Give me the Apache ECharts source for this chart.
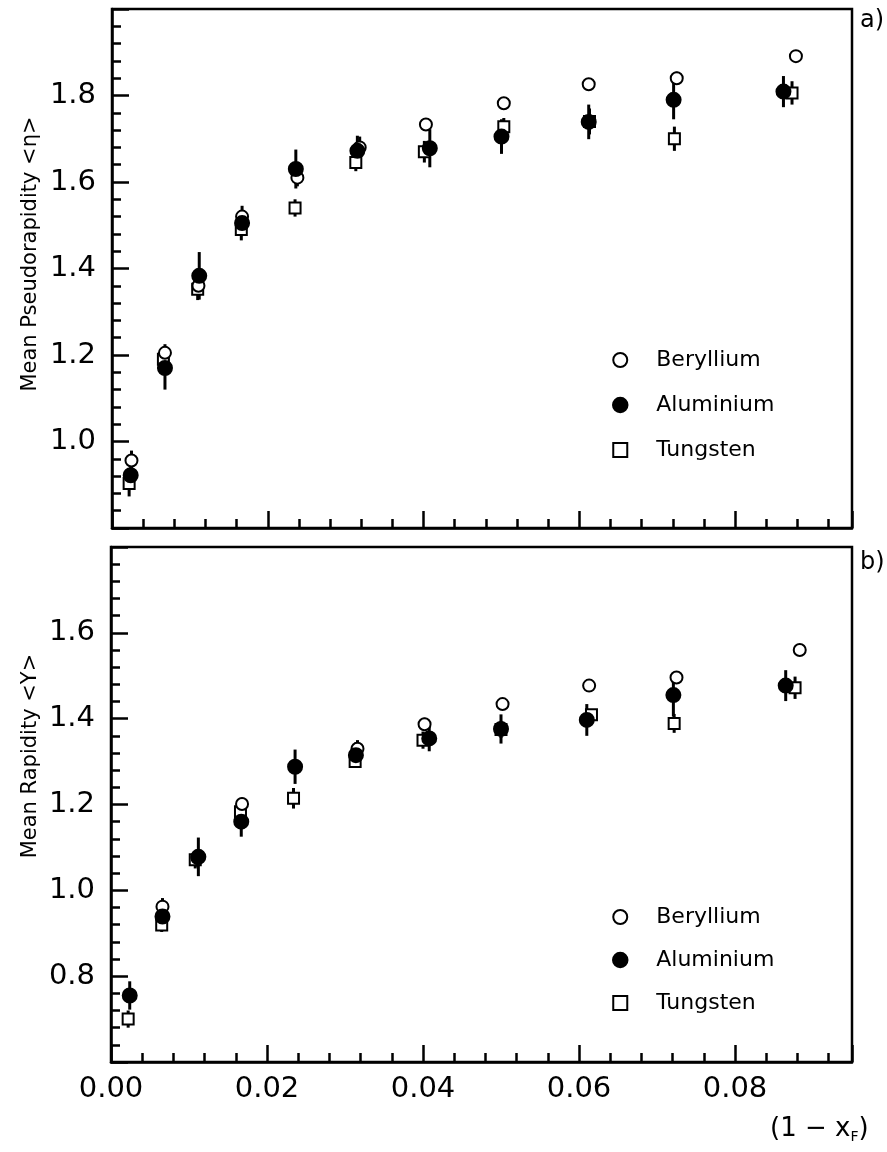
<!DOCTYPE html>
<html><head><meta charset="utf-8">
<script src="https://cdn.jsdelivr.net/npm/echarts/dist/echarts.min.js"></script>
<style>html,body{margin:0;padding:0;background:#fff}#c{width:887px;height:1152px}</style>
</head><body><div id="c"></div>
<script>
const seriesNames = ['Beryllium', 'Aluminium', 'Tungsten'];

// Panel a) mean pseudorapidity <eta>
const etaBeX = [0.0025, 0.0068, 0.0111, 0.0167, 0.0238, 0.0318, 0.0403, 0.0503, 0.0612, 0.0725, 0.0878];
const etaBeY = [0.956, 1.205, 1.36, 1.52, 1.61, 1.68, 1.733, 1.782, 1.826, 1.84, 1.891];
const etaBeE = [0.023, 0.02, 0.02, 0.025, 0.02, 0.025, 0.015, 0.012, 0.013, 0.015, 0.01];
const etaAlX = [0.0024, 0.0068, 0.0112, 0.0167, 0.0236, 0.0315, 0.0408, 0.0500, 0.0612, 0.0721, 0.0862];
const etaAlY = [0.922, 1.17, 1.383, 1.505, 1.63, 1.672, 1.678, 1.705, 1.739, 1.79, 1.809];
const etaAlE = [0.03, 0.05, 0.055, 0.03, 0.045, 0.035, 0.044, 0.04, 0.04, 0.045, 0.036];
const etaWX = [0.0022, 0.0066, 0.0110, 0.0166, 0.0235, 0.0313, 0.0401, 0.0503, 0.0613, 0.0722, 0.0873];
const etaWY = [0.903, 1.19, 1.352, 1.49, 1.54, 1.645, 1.67, 1.728, 1.74, 1.70, 1.806];
const etaWE = [0.03, 0.02, 0.025, 0.025, 0.02, 0.02, 0.025, 0.02, 0.03, 0.028, 0.027];

// Panel b) mean rapidity <Y>
const rapBeX = [null, 0.0066, 0.0111, 0.0168, null, 0.0316, 0.0402, 0.0502, 0.0613, 0.0725, 0.0883];
const rapBeY = [null, 0.962, 1.075, 1.201, null, 1.33, 1.387, 1.434, 1.477, 1.496, 1.56];
const rapBeE = [0, 0.02, 0.02, 0.015, 0, 0.02, 0.015, 0.012, 0.012, 0.015, 0.01];
const rapAlX = [0.0024, 0.0066, 0.0112, 0.0167, 0.0236, 0.0314, 0.0408, 0.0500, 0.0610, 0.0721, 0.0865];
const rapAlY = [0.755, 0.939, 1.078, 1.16, 1.288, 1.315, 1.354, 1.376, 1.397, 1.455, 1.477];
const rapAlE = [0.033, 0.03, 0.045, 0.035, 0.04, 0.03, 0.03, 0.034, 0.037, 0.05, 0.036];
const rapWX = [0.0022, 0.0065, 0.0108, 0.0166, 0.0234, 0.0313, 0.0400, 0.0500, 0.0616, 0.0722, 0.0877];
const rapWY = [0.70, 0.919, 1.071, 1.183, 1.2145, 1.30, 1.350, 1.375, 1.409, 1.389, 1.472];
const rapWE = [0.02, 0.016, 0.02, 0.02, 0.024, 0.015, 0.02, 0.02, 0.013, 0.022, 0.026];

const FONT = 'DejaVu Sans';
const chart = echarts.init(document.getElementById('c'), null, {renderer: 'canvas'});

function pts(xs, ys, es) {
  const out = [];
  for (let i = 0; i < xs.length; i++) {
    if (xs[i] == null || ys[i] == null) continue;
    out.push([xs[i], ys[i], es[i]]);
  }
  return out;
}
function errSeries(name, d, ai) {
  return {
    type: 'custom', name: name, xAxisIndex: ai, yAxisIndex: ai, z: 2,
    silent: true, animation: false, data: d, encode: {x: 0, y: 1},
    renderItem: function (params, api) {
      const x = api.value(0), y = api.value(1), e = api.value(2);
      const p1 = api.coord([x, y - e]), p2 = api.coord([x, y + e]);
      return {type: 'line', shape: {x1: p1[0], y1: p1[1], x2: p2[0], y2: p2[1]},
        style: {stroke: '#000', lineWidth: 3}};
    }
  };
}
const markerStyle = {
  Beryllium: {symbol: 'emptyCircle', symbolSize: 12},
  Aluminium: {symbol: 'circle', symbolSize: 13},
  Tungsten: {symbol: 'emptyRect', symbolSize: 11}
};
function scat(name, d, ai, z) {
  return {
    type: 'scatter', name: name, xAxisIndex: ai, yAxisIndex: ai, z: z,
    symbol: markerStyle[name].symbol, symbolSize: markerStyle[name].symbolSize,
    itemStyle: {color: '#000', borderColor: '#000', borderWidth: 3, opacity: 1},
    data: d.map(p => [p[0], p[1]]), animation: false
  };
}
const panels = [
  [pts(etaBeX, etaBeY, etaBeE), pts(etaAlX, etaAlY, etaAlE), pts(etaWX, etaWY, etaWE)],
  [pts(rapBeX, rapBeY, rapBeE), pts(rapAlX, rapAlY, rapAlE), pts(rapWX, rapWY, rapWE)]
];
const series = [];
panels.forEach((p, ai) => {
  series.push(errSeries('errBe' + ai, p[0], ai));
  series.push(errSeries('errAl' + ai, p[1], ai));
  series.push(errSeries('errW' + ai, p[2], ai));
  series.push(scat('Tungsten', p[2], ai, 3));
  series.push(scat('Beryllium', p[0], ai, 4));
  series.push(scat('Aluminium', p[1], ai, 5));
});

const LW = 2.5;
function xAxisCfg(gi, showLabels) {
  return {
    type: 'value', gridIndex: gi, min: 0, max: 0.095, interval: 0.02,
    axisLine: {show: true, onZero: false, lineStyle: {color: '#000', width: LW}},
    axisTick: {show: true, inside: true, length: 17, lineStyle: {color: '#000', width: LW}},
    minorTick: {show: true, splitNumber: 5, length: 9, lineStyle: {color: '#000', width: LW}},
    splitLine: {show: false},
    axisLabel: {show: showLabels, margin: 13, color: '#000', fontFamily: FONT, fontSize: 29,
      formatter: v => (Math.abs(v / 0.02 - Math.round(v / 0.02)) < 1e-6 ? v.toFixed(2) : '')}
  };
}
function yAxisCfg(gi, mn, mx) {
  return {
    type: 'value', gridIndex: gi, min: mn, max: mx, interval: 0.2,
    axisLine: {show: true, onZero: false, lineStyle: {color: '#000', width: LW}},
    axisTick: {show: true, inside: true, length: 17, lineStyle: {color: '#000', width: LW}},
    minorTick: {show: true, splitNumber: 5, length: 9, lineStyle: {color: '#000', width: LW}},
    splitLine: {show: false},
    axisLabel: {margin: 16, color: '#000', fontFamily: FONT, fontSize: 29,
      formatter: v => (v > mn + 0.05 && v < mx - 0.05 ? v.toFixed(1) : '')}
  };
}
const legendBase = {
  data: seriesNames, orient: 'vertical', itemWidth: 14, itemHeight: 14,
  selectedMode: false,
  itemStyle: {borderWidth: 2.5},
  textStyle: {fontFamily: FONT, fontSize: 22, color: '#000', lineHeight: 22, padding: [0, 0, 0, 24]}
};
const option = {
  backgroundColor: '#fff',
  animation: false,
  grid: [
    {left: 112, top: 9, width: 740, height: 519, show: true, borderColor: '#000', borderWidth: LW, backgroundColor: 'transparent'},
    {left: 111, top: 547, width: 741, height: 515, show: true, borderColor: '#000', borderWidth: LW, backgroundColor: 'transparent'}
  ],
  xAxis: [xAxisCfg(0, false), xAxisCfg(1, true)],
  yAxis: [yAxisCfg(0, 0.8, 2.0), yAxisCfg(1, 0.6, 1.8)],
  legend: [
    Object.assign({}, legendBase, {left: 607, top: 344, itemGap: 23}),
    Object.assign({}, legendBase, {left: 607, top: 901, itemGap: 21})
  ],
  graphic: [
    {type: 'text', x: 31, y: 254, rotation: Math.PI / 2,
      style: {text: 'Mean Pseudorapidity <η>', fontFamily: FONT, fontSize: 21, fill: '#000', textAlign: 'center', textVerticalAlign: 'middle'}},
    {type: 'text', x: 31, y: 756, rotation: Math.PI / 2,
      style: {text: 'Mean Rapidity <Y>', fontFamily: FONT, fontSize: 21, fill: '#000', textAlign: 'center', textVerticalAlign: 'middle'}},
    {type: 'text', x: 860, y: 9,
      style: {text: 'a)', fontFamily: FONT, fontSize: 24, fill: '#000'}},
    {type: 'text', x: 860, y: 551,
      style: {text: 'b)', fontFamily: FONT, fontSize: 24, fill: '#000'}},
    {type: 'text', x: 770, y: 1114,
      style: {text: '(1 − x{s|F})', fontFamily: FONT, fontSize: 26, fill: '#000',
        rich: {s: {fontFamily: FONT, fontSize: 14, fill: '#000', padding: [16, 0, 0, 0]}}}}
  ],
  series: series
};
chart.setOption(option);
</script>
</body></html>
